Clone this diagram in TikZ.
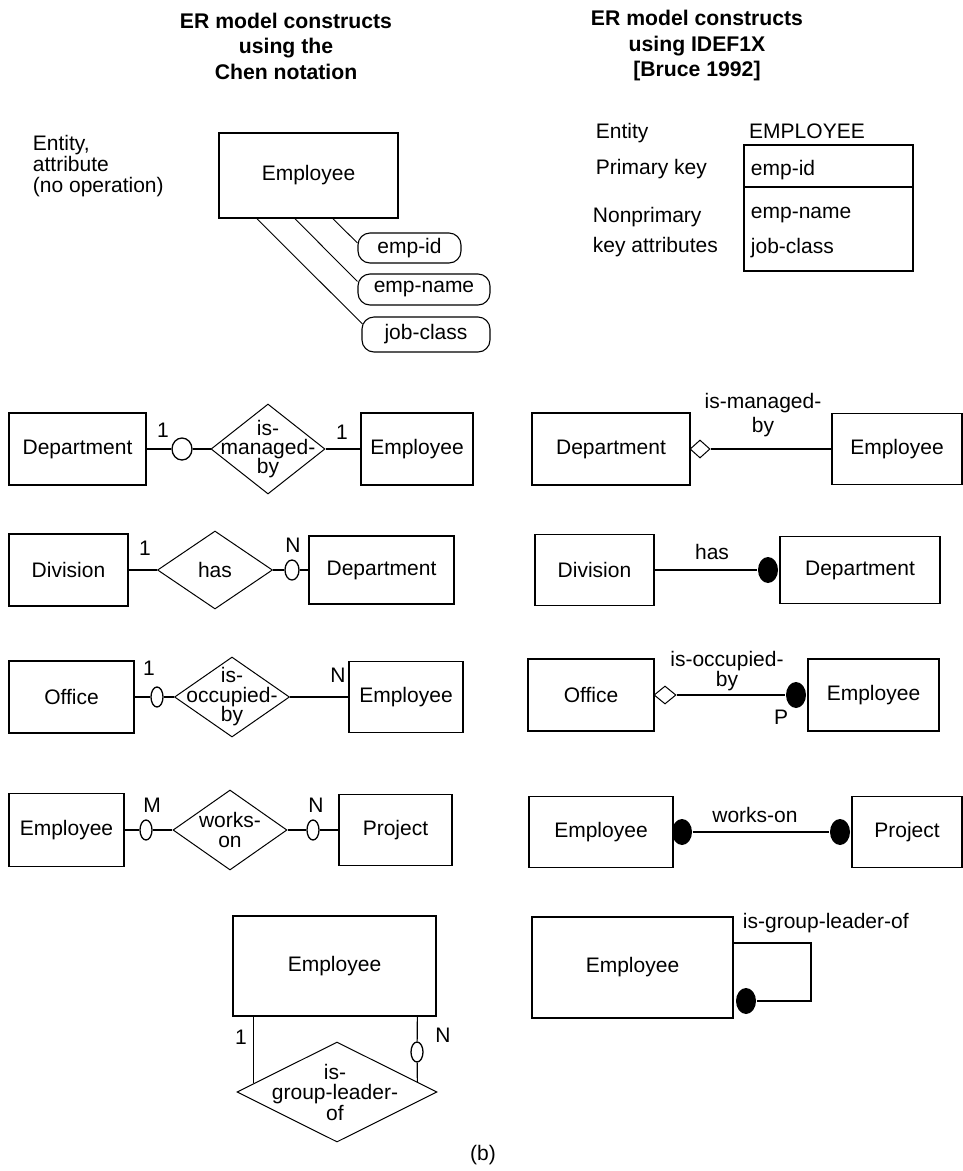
\documentclass[tikz,border=0pt]{standalone}
\usepackage{fontspec}
\setmainfont{Liberation Sans}
\usetikzlibrary{shapes.geometric, positioning}
\lineskiplimit=-30pt
\tikzset{
  every node/.style={font=\fontsize{21}{21}\selectfont},
  entity/.style={draw, line width=1.5pt},
  attrib/.style={draw, line width=1.1pt, rounded corners=12pt, inner sep=0pt},
  rel/.style={draw, diamond, line width=1pt, inner sep=0pt},
  reltext/.style={align=center, font=\fontsize{21}{#1}\selectfont},
  reltext/.default=19,
  opt/.style={draw, ellipse, line width=1.3pt, inner sep=0pt, minimum width=12pt, minimum height=20pt},
  dot/.style={ellipse, fill=black, inner sep=0pt, minimum width=20pt, minimum height=26pt},
  hollow/.style={draw, diamond, line width=1pt, inner sep=0pt, minimum width=20pt, minimum height=18pt},
  title/.style={align=center, font=\bfseries\fontsize{21.2}{25.5}\selectfont},
}
\begin{document}
\begin{tikzpicture}[x=1pt, y=-1pt, line width=1.2pt]
\useasboundingbox (0,0) rectangle (963,1171);

% headings
\node[title] (hchen) at (286,46) {ER model constructs\\using the\\Chen notation};
\node[title] (hidef) at (697,46) {ER model constructs\\using IDEF1X\\{[Bruce 1992]}};

% Chen: entity and attributes
\node[align=left, anchor=west] (note) at (29,166) {Entity,\\attribute\\(no operation)};
\node[entity, minimum width=179pt, minimum height=85pt] (emp0) at (308.5,175.5) {Employee};
\node[attrib, minimum width=103pt, minimum height=30pt] (empid) at (409.5,248) {emp-id};
\node[attrib, minimum width=132pt, minimum height=31pt] (empname) at (424,289.5) {emp-name};
\node[attrib, minimum width=128pt, minimum height=35pt] (jobclass) at (426,334.5) {job-class};
\draw[line width=.9pt] ([xshift=24.5pt]emp0.south) -- ([yshift=5pt]empid.west)
      ([xshift=-13.5pt]emp0.south) -- ([yshift=8pt]empname.west)
      ([xshift=-51.5pt]emp0.south) -- ([xshift=1pt, yshift=10.5pt]jobclass.west);

% Chen: is-managed-by
\node[entity, minimum width=137pt, minimum height=72pt] (dept1) at (77.5,449) {Department};
\node[opt, minimum width=20pt, minimum height=22pt] (o1) at (182,449) {};
\node[rel, minimum width=114pt, minimum height=90pt] (r1) at (268,449) {};
\node[reltext] at (r1) {is-\\managed-\\by};
\node[entity, minimum width=112pt, minimum height=72pt] (emp1) at (417,449) {Employee};
\draw (dept1) -- (o1) (o1) -- (r1) (r1) -- (emp1);
\node at (163,430) {1};
\node at (342,432) {1};

% Chen: has
\node[entity, minimum width=119pt, minimum height=72pt] (div2) at (68.5,570) {Division};
\node[rel, minimum width=115pt, minimum height=78pt] (r2) at (215,570) {};
\node at (r2) {has};
\node[opt, minimum width=14pt] (o2) at (292,570) {};
\node[entity, minimum width=145pt, minimum height=68pt] (dept2) at (381.5,570) {Department};
\draw (div2) -- (r2) (r2) -- (o2) (o2) -- (dept2);
\node at (145,548) {1};
\node at (293,545) {N};

% Chen: is-occupied-by
\node[entity, minimum width=125pt, minimum height=72pt] (off3) at (71.5,697) {Office};
\node[opt] (o3) at (157,697) {};
\node[rel, minimum width=115pt, minimum height=80pt] (r3) at (232,697) {};
\node[reltext=19.5] at (r3) {is-\\occupied-\\by};
\node[entity, minimum width=114pt, minimum height=71pt] (emp3) at (406,697) {Employee};
\draw (off3) -- (o3) (o3) -- (r3) (r3) -- (emp3);
\node at (149,668) {1};
\node at (338,675) {N};

% Chen: works-on
\node[entity, minimum width=115pt, minimum height=73pt] (emp4) at (66.5,830) {Employee};
\node[opt] (o4a) at (146,830) {};
\node[rel, minimum width=114pt, minimum height=80pt] (r4) at (230,830) {};
\node[reltext=20] at (r4) {works-\\on};
\node[opt] (o4b) at (313,830) {};
\node[entity, minimum width=113pt, minimum height=71pt] (proj4) at (395.5,830) {Project};
\draw (emp4) -- (o4a) (o4a) -- (r4) (r4) -- (o4b) (o4b) -- (proj4);
\node at (152,805) {M};
\node at (316,805) {N};

% Chen: is-group-leader-of
\node[entity, minimum width=203pt, minimum height=100pt] (emp6) at (334.5,966) {Employee};
\node[rel, minimum width=200pt, minimum height=100pt] (r6) at (337,1092) {};
\node[reltext=20.5] at (335,1092) {is-\\group-leader-\\of};
\path (r6.west) -- (r6.north) coordinate[pos=.17] (r6l);
\path (r6.north) -- (r6.east) coordinate[pos=.8] (r6r);
\node[opt] (o6) at (417,1052) {};
\draw (emp6.south -| r6l) -- (r6l);
\draw (emp6.south -| r6r) -- (o6) (o6) -- (r6r);
\node at (241,1037) {1};
\node at (443,1035) {N};

% IDEF1X: entity and keys
\node[anchor=west] (lent) at (592,133) {Entity};
\node (ename) at (807,131) {EMPLOYEE};
\node[entity, minimum width=169pt, minimum height=42pt] (pk) at (828.5,166) {};
\node[entity, minimum width=169pt, minimum height=84pt, below=-1.5pt of pk] (nk) {};
\node[anchor=west, text depth=0pt] (pktext) at (747,168) {emp-id};
\node[anchor=west, align=left] (nktext) at (747,233) {emp-name\\[14pt]job-class};
\node[anchor=west] (lpk) at (592,169) {Primary key};
\node[anchor=west, align=left] (lnk) at (589,232) {Nonprimary\\[9pt]key attributes};

% IDEF1X: is-managed-by
\node[entity, minimum width=158pt, minimum height=72pt] (idept1) at (611,449) {Department};
\node[hollow] (h1) at (700,449) {};
\node[entity, minimum width=130pt, minimum height=71pt] (iemp1) at (897,449) {Employee};
\draw (h1) -- (iemp1);
\node[reltext=23.5] at (763,415) {is-managed-\\by};

% IDEF1X: has
\node[entity, minimum width=119pt, minimum height=71pt] (idiv2) at (594.5,570) {Division};
\node[dot] (d2) at (768,570) {};
\node[entity, minimum width=160pt, minimum height=67pt] (idept2) at (860,570) {Department};
\draw (idiv2) -- (d2);
\node at (712,552) {has};

% IDEF1X: is-occupied-by
\node[entity, minimum width=126pt, minimum height=72pt] (ioff3) at (591,695) {Office};
\node[hollow, minimum width=22pt] (h3) at (665,695) {};
\node[dot] (d3) at (796,695) {};
\node[entity, minimum width=131pt, minimum height=72pt] (iemp3) at (873.5,695) {Employee};
\draw (h3) -- (d3);
\node[reltext=20] at (727,671) {is-occupied-\\by};
\node at (781,717) {P};

% IDEF1X: works-on
\node[entity, minimum width=144pt, minimum height=71pt] (iemp4) at (601,832) {Employee};
\node[dot] (d4a) at (682,832) {};
\node[dot] (d4b) at (840,832) {};
\node[entity, minimum width=110pt, minimum height=71pt] (iproj4) at (907,832) {Project};
\draw (d4a) -- (d4b);
\node at (755,815) {works-on};

% IDEF1X: is-group-leader-of
\node[entity, minimum width=201pt, minimum height=101pt] (iemp5) at (632.5,967.5) {Employee};
\node[dot] (d5) at (746,1001) {};
\coordinate (lp1) at (811,943);
\coordinate (lp2) at (811,1001);
\draw (iemp5.east |- lp1) -- (lp1) -- (lp2) -- (d5);
\node[anchor=west] at (739,923) {is-group-leader-of};

\node (caption) at (483,1155) {(b)};
\end{tikzpicture}
\end{document}
